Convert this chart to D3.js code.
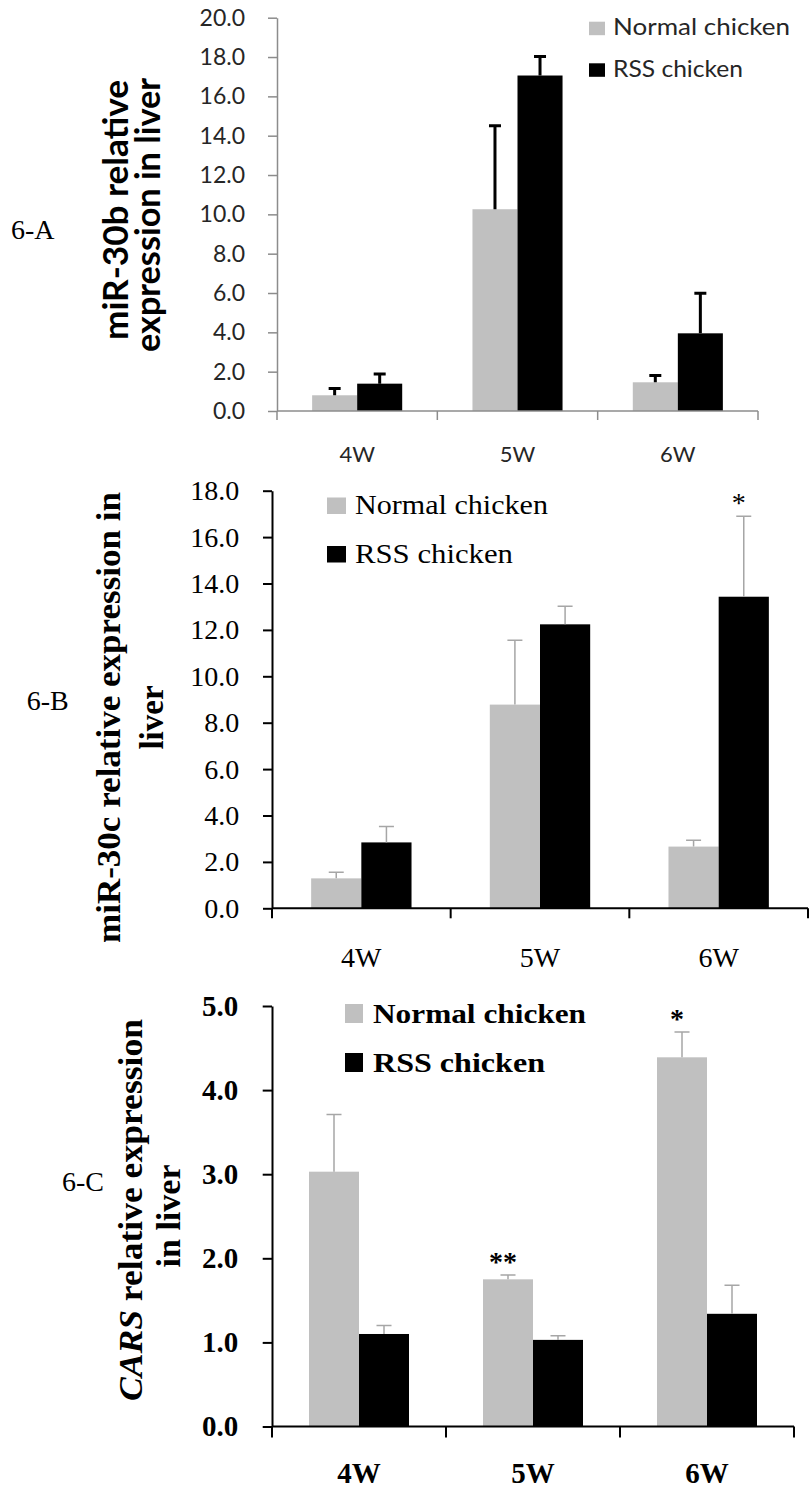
<!DOCTYPE html>
<html>
<head>
<meta charset="utf-8">
<script src="https://cdn.jsdelivr.net/npm/d3@7"></script>
<style>
  body { margin: 0; background: #fff; }
</style>
</head>
<body>
<svg width="810" height="1488"></svg>
<script>
// categories
var weeks = ["4W", "5W", "6W"];
var groups = ["Normal chicken", "RSS chicken"];

// 6-A  miR-30b
var mir30bNormal = [0.80, 10.26, 1.46];
var mir30bNormalErr = [0.35, 4.24, 0.34];
var mir30bRss = [1.39, 17.06, 3.95];
var mir30bRssErr = [0.49, 0.97, 2.04];
var mir30bTicks = [0, 2, 4, 6, 8, 10, 12, 14, 16, 18, 20];

// 6-B  miR-30c
var mir30cNormal = [1.29, 8.78, 2.66];
var mir30cNormalErr = [0.26, 2.77, 0.27];
var mir30cRss = [2.84, 12.24, 13.43];
var mir30cRssErr = [0.69, 0.78, 3.47];
var mir30cTicks = [0, 2, 4, 6, 8, 10, 12, 14, 16, 18];
var mir30cMarks = [["", "", ""], ["", "", "*"]];

// 6-C  CARS
var carsNormal = [3.03, 1.75, 4.39];
var carsNormalErr = [0.68, 0.05, 0.30];
var carsRss = [1.10, 1.03, 1.34];
var carsRssErr = [0.10, 0.05, 0.34];
var carsTicks = [0, 1, 2, 3, 4, 5];
var carsMarks = [["", "**", "*"], ["", "", ""]];

var svg = d3.select("svg");
var color = d3.scaleOrdinal().domain(groups).range(["#c0c0c0", "#000000"]);
var serif = "'Liberation Serif', 'Times New Roman', serif";
var sans = "Lato, 'Open Sans', sans-serif";

function drawPanel(p) {
  var y = d3.scaleLinear().domain([0, d3.max(p.ticks)]).range([p.bottom, p.top]);
  var x0 = d3.scaleBand().domain(weeks).range([p.left, p.right]);
  var x1 = d3.scaleBand().domain(groups).range([0, x0.bandwidth()])
      .paddingInner(0).paddingOuter(p.pad);

  var rows = weeks.map(function (w, i) {
    return {
      week: w,
      values: groups.map(function (gr, j) {
        return { group: gr, v: p.values[j][i], e: p.errors[j][i],
                 mark: p.marks ? p.marks[j][i] : "" };
      })
    };
  });

  var g = svg.append("g");

  // bars
  var wk = g.selectAll(".week").data(rows).join("g")
      .attr("transform", function (d) { return "translate(" + x0(d.week) + ",0)"; });

  wk.selectAll("rect").data(function (d) { return d.values; }).join("rect")
      .attr("x", function (d) { return x1(d.group); })
      .attr("width", x1.bandwidth())
      .attr("y", function (d) { return y(d.v); })
      .attr("height", function (d) { return y(0) - y(d.v); })
      .attr("fill", function (d) { return color(d.group); });

  // error bars (upper only)
  wk.selectAll("path.err").data(function (d) { return d.values; }).join("path")
      .attr("class", "err")
      .attr("d", function (d) {
        var cx = x1(d.group) + x1.bandwidth() / 2, t = y(d.v + d.e);
        return "M" + cx + "," + y(d.v) + "V" + t +
               "M" + (cx - p.cap / 2) + "," + t + "H" + (cx + p.cap / 2);
      })
      .attr("fill", "none")
      .attr("stroke", p.errColor)
      .attr("stroke-width", p.errWidth);

  // significance marks
  wk.selectAll("text.sig").data(function (d) { return d.values.filter(function (v) { return v.mark; }); })
    .join("text")
      .attr("class", "sig")
      .attr("x", function (d) { return x1(d.group) + x1.bandwidth() / 2 - 5; })
      .attr("y", function (d) { return y(d.v + d.e) - 4; })
      .attr("text-anchor", "middle")
      .attr("font-family", serif)
      .attr("font-weight", p.weight)
      .attr("font-size", 28)
      .text(function (d) { return d.mark; });

  // y axis
  var ya = g.append("g")
      .attr("transform", "translate(" + p.left + ",0)")
      .call(d3.axisLeft(y).tickValues(p.ticks).tickFormat(d3.format(".1f"))
        .tickSize(p.tickLen).tickSizeOuter(0).tickPadding(p.tickPad));
  ya.attr("font-family", p.font).attr("font-size", p.tickSize)
    .attr("font-weight", p.weight).attr("color", p.axisColor);
  ya.selectAll("line, path").attr("stroke-width", p.axisWidth);
  ya.selectAll("text").attr("fill", p.textColor);

  // x axis: baseline, boundary ticks, centred labels
  var bounds = weeks.map(function (w) { return x0(w); }).concat([p.right]);
  g.append("line")
      .attr("x1", p.left).attr("x2", p.right)
      .attr("y1", y(0)).attr("y2", y(0))
      .attr("stroke", p.axisColor).attr("stroke-width", p.axisWidth);
  g.selectAll(".xt").data(bounds).join("line")
      .attr("x1", function (d) { return d; }).attr("x2", function (d) { return d; })
      .attr("y1", y(0)).attr("y2", y(0) + p.xTickLen)
      .attr("stroke", p.axisColor).attr("stroke-width", p.axisWidth);
  g.selectAll(".xl").data(weeks).join("text")
      .attr("x", function (d) { return x0(d) + x0.bandwidth() / 2; })
      .attr("y", p.xLabelY)
      .attr("text-anchor", "middle")
      .attr("font-family", p.font)
      .attr("font-size", p.xLabelSize)
      .attr("font-weight", p.weight)
      .attr("fill", p.textColor)
      .text(function (d) { return d; });

  // y title (rotated, multi-line)
  p.title.forEach(function (ln) {
    var t = g.append("text")
        .attr("transform", "translate(" + ln.x + "," + ln.y + ") rotate(-90)")
        .attr("text-anchor", "middle")
        .attr("font-family", p.titleFont)
        .attr("font-weight", "bold")
        .attr("font-size", p.titleSize)
        .attr("fill", "#000");
    ln.parts.forEach(function (part) {
      t.append("tspan").attr("font-style", part.italic ? "italic" : null).text(part.text);
    });
    if (ln.len) t.attr("textLength", ln.len).attr("lengthAdjust", "spacingAndGlyphs");
  });

  // panel label
  g.append("text")
      .attr("x", p.label.x).attr("y", p.label.y)
      .attr("font-family", serif).attr("font-size", p.label.size)
      .text(p.label.text);

  // legend
  var lg = g.selectAll(".lg").data(groups).join("g");
  lg.append("rect")
      .attr("x", p.legend.x)
      .attr("y", function (d, i) { return p.legend.ys[i]; })
      .attr("width", p.legend.w).attr("height", p.legend.h)
      .attr("fill", function (d) { return color(d); });
  lg.append("text")
      .attr("x", p.legend.tx)
      .attr("y", function (d, i) { return p.legend.base[i]; })
      .attr("font-family", p.font)
      .attr("font-size", p.legend.size)
      .attr("font-weight", p.weight)
      .attr("fill", p.textColor)
      .attr("textLength", function (d, i) { return p.legend.lens[i]; })
      .attr("lengthAdjust", "spacingAndGlyphs")
      .text(function (d) { return d; });
}

// 6-A
drawPanel({
  values: [mir30bNormal, mir30bRss], errors: [mir30bNormalErr, mir30bRssErr],
  ticks: mir30bTicks,
  left: 277, right: 758, top: 17.7, bottom: 411, pad: 0.78,
  font: sans, weight: "normal", textColor: "#262626",
  axisColor: "#8c8c8c", axisWidth: 1.5, tickLen: 9, tickPad: 23, tickSize: 23,
  xTickLen: 9, xLabelY: 462, xLabelSize: 22,
  errColor: "#000", errWidth: 3, cap: 12,
  titleFont: sans, titleSize: 35,
  title: [
    { parts: [{ text: "miR-30b relative" }], x: 128, y: 210, len: 260 },
    { parts: [{ text: "expression in liver" }], x: 160, y: 215, len: 274 }
  ],
  label: { text: "6-A", x: 11, y: 239, size: 28 },
  legend: { x: 589, w: 16, h: 13.5, ys: [21.7, 63.3], tx: 613, base: [35, 76.7],
            size: 23, lens: [177, 130] }
});

// 6-B
drawPanel({
  values: [mir30cNormal, mir30cRss], errors: [mir30cNormalErr, mir30cRssErr],
  marks: mir30cMarks, ticks: mir30cTicks,
  left: 272, right: 808, top: 490.7, bottom: 908.3, pad: 0.78,
  font: serif, weight: "normal", textColor: "#000",
  axisColor: "#000", axisWidth: 2, tickLen: 9, tickPad: 23.7, tickSize: 28,
  xTickLen: 10, xLabelY: 967, xLabelSize: 28,
  errColor: "#a6a6a6", errWidth: 1.5, cap: 15,
  titleFont: serif, titleSize: 33,
  title: [
    { parts: [{ text: "miR-30c relative expression in" }], x: 120, y: 717.5, len: 451 },
    { parts: [{ text: "liver" }], x: 162.7, y: 717.5 }
  ],
  label: { text: "6-B", x: 26.7, y: 710, size: 28 },
  legend: { x: 327, w: 19, h: 16.5, ys: [497.5, 546], tx: 355, base: [514, 563],
            size: 28, lens: [193, 158] }
});

// 6-C
drawPanel({
  values: [carsNormal, carsRss], errors: [carsNormalErr, carsRssErr],
  marks: carsMarks, ticks: carsTicks,
  left: 272, right: 794, top: 1006, bottom: 1426.5, pad: 0.74,
  font: serif, weight: "bold", textColor: "#000",
  axisColor: "#000", axisWidth: 2, tickLen: 9.3, tickPad: 24.4, tickSize: 29,
  xTickLen: 11, xLabelY: 1483, xLabelSize: 29,
  errColor: "#a6a6a6", errWidth: 1.5, cap: 15,
  titleFont: serif, titleSize: 33,
  title: [
    { parts: [{ text: "CARS", italic: true }, { text: "  relative expression" }], x: 142, y: 1210, len: 382 },
    { parts: [{ text: "in liver" }], x: 180, y: 1216, len: 103 }
  ],
  label: { text: "6-C", x: 62, y: 1191, size: 28 },
  legend: { x: 345, w: 18, h: 19, ys: [1004, 1053], tx: 373, base: [1023, 1072],
            size: 27, lens: [213, 172] }
});
</script>
</body>
</html>
